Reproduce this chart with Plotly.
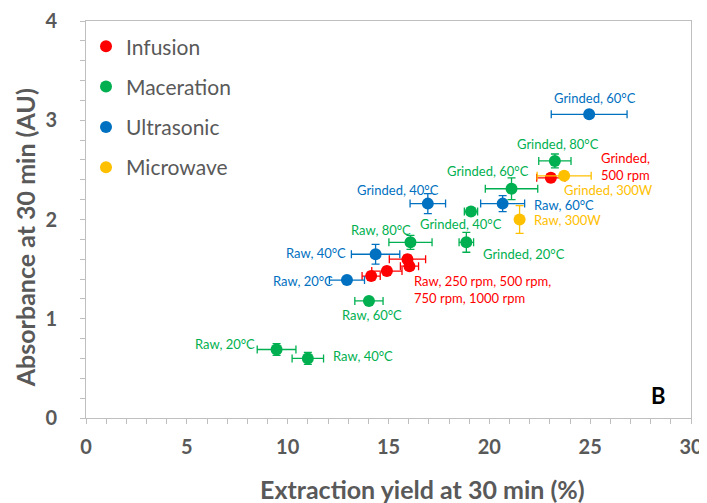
import plotly.graph_objects as go

# ---- data ----
methods = ["Infusion", "Maceration", "Ultrasonic", "Microwave"]
colors = ["#FF0000", "#00B050", "#0070C0", "#FFC000"]

inf_x = [23.05, 15.94, 16.04, 14.92, 14.14]
inf_y = [2.42, 1.60, 1.53, 1.48, 1.43]
inf_ex = [0.7, 0.9, 0.45, 0.75, 0.45]
inf_ey = [0.04, 0.04, 0.04, 0.04, 0.04]

mac_x = [9.45, 11.0, 14.03, 16.09, 18.86, 19.09, 21.1, 23.25]
mac_y = [0.69, 0.60, 1.18, 1.77, 1.77, 2.08, 2.31, 2.59]
mac_ex = [0.96, 0.78, 0.7, 1.07, 0.36, 0.33, 1.3, 0.8]
mac_ey = [0.06, 0.06, 0.03, 0.07, 0.1, 0.03, 0.11, 0.07]

ult_x = [12.94, 14.36, 20.66, 16.95, 24.95]
ult_y = [1.39, 1.65, 2.16, 2.16, 3.06]
ult_ex = [0.87, 1.2, 1.09, 0.88, 1.88]
ult_ey = [0.03, 0.1, 0.08, 0.1, 0.03]

mic_x = [23.71, 21.5]
mic_y = [2.44, 2.0]
mic_ex = [1.34, 0.05]
mic_ey = [0.03, 0.14]

x_ticks = [0, 5, 10, 15, 20, 25, 30]
y_ticks = [0, 1, 2, 3, 4]

# point labels: text, colour index, x, y, anchor
label_text = ["Grinded, 60°C", "Grinded, 80°C", "Grinded,<br>500 rpm", "Grinded, 300W",
              "Grinded, 60°C", "Grinded, 40°C", "Raw, 60°C", "Raw, 300W",
              "Grinded, 40°C", "Raw, 80°C", "Grinded, 20°C", "Raw, 40°C", "Raw, 20°C",
              "Raw, 250 rpm, 500 rpm,<br>750 rpm, 1000 rpm", "Raw, 60°C", "Raw, 20°C", "Raw, 40°C"]
label_col = [2, 1, 0, 3, 1, 2, 2, 3, 1, 1, 1, 2, 2, 0, 1, 1, 1]
label_x = [25.23, 23.42, 25.45, 23.6, 19.92, 15.46, 22.1, 22.1, 18.6, 14.64, 19.6, 11.42, 10.76,
           16.15, 14.19, 6.88, 13.73]
label_y = [3.22, 2.76, 2.53, 2.30, 2.49, 2.30, 2.15, 1.99, 1.95, 1.89, 1.65, 1.66, 1.38,
           1.29, 1.04, 0.75, 0.62]
label_anchor = ["center", "center", "left", "left", "center", "center", "left", "left",
                "center", "center", "left", "center", "center", "left", "center", "center", "center"]

series = [(inf_x, inf_y, inf_ex, inf_ey), (mac_x, mac_y, mac_ex, mac_ey),
          (ult_x, ult_y, ult_ex, ult_ey), (mic_x, mic_y, mic_ex, mic_ey)]

FONT = "Lato, 'Open Sans', sans-serif"
GRAY = "#595959"
AXC = "#BFBFBF"

fig = go.Figure()
for i, (name, (xs, ys, ex, ey)) in enumerate(zip(methods, series)):
    fig.add_trace(go.Scatter(
        x=xs, y=ys, mode="markers", name=name, legendgroup=name,
        marker=dict(color=colors[i], size=12),
        error_x=dict(type="data", array=ex, color=colors[i], thickness=1.3, width=4),
        error_y=dict(type="data", array=ey, color=colors[i], thickness=1.3, width=4),
    ))

for t, c, x, y, a in zip(label_text, label_col, label_x, label_y, label_anchor):
    fig.add_annotation(x=x, y=y, text=t, showarrow=False, xanchor=a, yanchor="middle",
                       align="left", font=dict(family=FONT, size=13, color=colors[c]))

fig.add_annotation(x=28.4, y=0.23, text="<b>B</b>", showarrow=False,
                   font=dict(family=FONT, size=22, color="black"))

# axis titles
fig.add_annotation(xref="paper", yref="paper", x=0.557, y=-0.178, showarrow=False,
                   text="<b>Extraction yield at 30 min (%)</b>", yanchor="middle",
                   font=dict(family=FONT, size=25, color=GRAY))
fig.add_annotation(xref="paper", yref="paper", x=-0.101, y=0.455, showarrow=False,
                   text="<b>Absorbance at 30 min (AU)</b>", textangle=-90, xanchor="center",
                   font=dict(family=FONT, size=25, color=GRAY))

# page body has an 8px default margin, so the figure is drawn 8px smaller
fig.update_layout(
    width=699, height=495,
    margin=dict(l=78, r=16, t=13, b=85),
    paper_bgcolor="white", plot_bgcolor="white",
    font=dict(family=FONT, color=GRAY),
    legend=dict(x=0.0, y=0.987, xanchor="left", yanchor="top",
                font=dict(family=FONT, size=21, color=GRAY),
                tracegroupgap=10, itemsizing="constant", bgcolor="rgba(0,0,0,0)"),
    xaxis=dict(range=[0, 30], tickvals=x_ticks, showgrid=False, zeroline=False,
               automargin=False,
               showline=True, linecolor=AXC, mirror=True, linewidth=1,
               ticks="outside", ticklen=5, tickcolor=AXC, ticklabelstandoff=6,
               minor=dict(dtick=1, ticks="outside", ticklen=5, tickcolor=AXC, showgrid=False),
               tickfont=dict(family=FONT, size=20, color=GRAY, weight="bold")),
    yaxis=dict(range=[0, 4], tickvals=y_ticks, showgrid=False, zeroline=False,
               automargin=False,
               showline=True, linecolor=AXC, mirror=True, linewidth=1,
               ticks="outside", ticklen=5, tickcolor=AXC, ticklabelstandoff=19,
               minor=dict(dtick=0.2, ticks="outside", ticklen=5, tickcolor=AXC, showgrid=False),
               tickfont=dict(family=FONT, size=20, color=GRAY, weight="bold")),
)

fig.write_html("out.html")
